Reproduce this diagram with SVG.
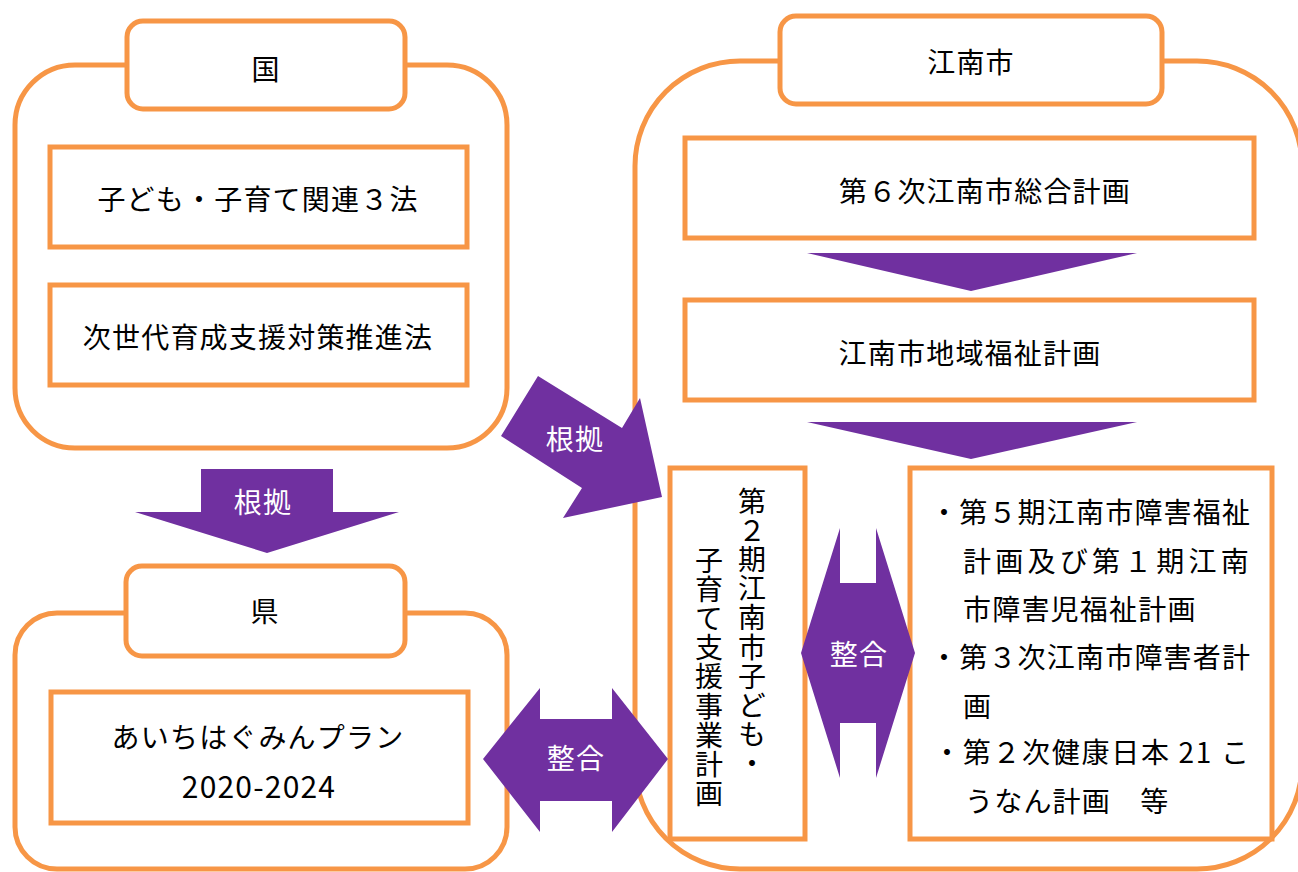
<svg xmlns="http://www.w3.org/2000/svg" width="1298" height="872" viewBox="0 0 1298 872">
<style>
.o{fill:#fff;stroke:#F79646;stroke-width:5}
.a{fill:#7030A0}
.t{font-family:"Noto Sans CJK JP","Noto Sans CJK SC",sans-serif;font-size:28px;letter-spacing:1.2px;fill:#000}
.c{text-anchor:middle}
.w{fill:#fff}
.v{writing-mode:vertical-rl;text-orientation:upright}
</style>
<rect width="1298" height="872" fill="#fff"/>
<g id="kuni">
<rect class="o" x="15" y="65" width="492" height="383" rx="60"/>
<rect class="o" x="127" y="21" width="278" height="88" rx="16"/>
<text class="t c" x="266" y="80">国</text>
<rect class="o" x="50" y="147" width="417" height="100"/>
<text class="t c" x="258" y="210">子ども・子育て関連３法</text>
<rect class="o" x="50" y="285" width="417" height="100"/>
<text class="t c" x="258" y="348">次世代育成支援対策推進法</text>
</g>
<g id="ken">
<rect class="o" x="15" y="613" width="492" height="256" rx="42"/>
<rect class="o" x="126" y="566" width="279" height="90" rx="16"/>
<text class="t c" x="265" y="622">県</text>
<rect class="o" x="51" y="692" width="417" height="131"/>
<text class="t c" x="258" y="748">あいちはぐみんプラン</text>
<text class="t c" x="259" y="798" style="font-size:30px">2020-2024</text>
</g>
<g id="konan">
<rect class="o" x="635" y="61" width="667" height="808" rx="105"/>
<rect class="o" x="780" y="16" width="382" height="88" rx="16"/>
<text class="t c" x="971" y="73">江南市</text>
<rect class="o" x="685" y="138" width="569" height="100"/>
<text class="t c" x="985" y="202">第６次江南市総合計画</text>
<rect class="o" x="685" y="300" width="569" height="100"/>
<text class="t c" x="970" y="364">江南市地域福祉計画</text>
</g>
<g id="kosodate-plan">
<rect class="o" x="670" y="468" width="135" height="371"/>
<text class="t v" x="752" y="487">第２期江南市子ども・</text>
<text class="t v" x="709" y="546">子育て支援事業計画</text>
</g>
<g id="related-plans">
<rect class="o" x="910" y="468" width="362" height="371"/>
<text class="t" x="930" y="523">・第５期江南市障害福祉</text>
<text class="t" x="963" y="572" textLength="287" lengthAdjust="spacing">計画及び第１期江南</text>
<text class="t" x="963" y="620">市障害児福祉計画</text>
<text class="t" x="930" y="668">・第３次江南市障害者計</text>
<text class="t" x="963" y="717">画</text>
<text class="t" x="933" y="763" style="letter-spacing:1.7px">・第２次健康日本 21 こ</text>
<text class="t" x="965" y="812">うなん計画　等</text>
</g>
<g id="connectors">
<polygon class="a" points="201,469 333,469 333,512 399,512 267,553 135,512 201,512"/>
<text class="t c w" x="263" y="513">根拠</text>
<polygon class="a" points="538,376 622,428 640,398 662,497 563,518 582,488 501,436"/>
<text class="t c w" x="575" y="450">根拠</text>
<polygon class="a" points="807,253 1137,253 971,291"/>
<polygon class="a" points="807,422 1137,422 971,459"/>
<polygon class="a" points="483,759 540,688 540,719 612,719 612,688 668,759 612,832 612,801 540,801 540,832"/>
<text class="t c w" x="576" y="769">整合</text>
<polygon class="a" points="801,653 840,528 840,583 876,583 876,528 915,653 876,778 876,723 840,723 840,778"/>
<text class="t c w" x="859" y="665">整合</text>
</g>
</svg>
